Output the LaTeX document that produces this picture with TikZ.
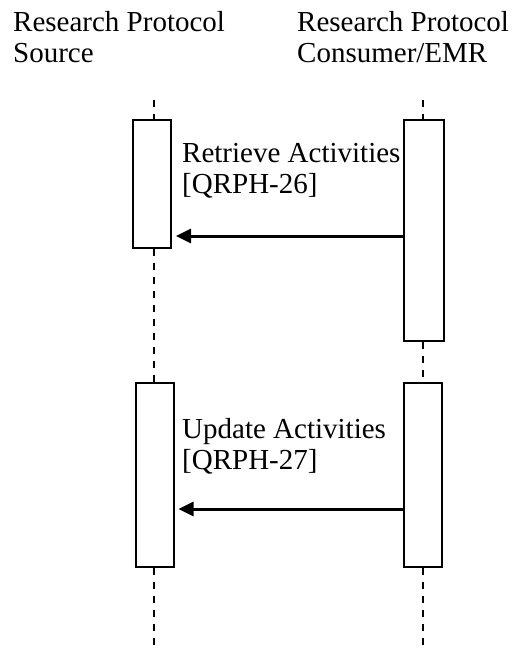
\documentclass[tikz,border=0pt]{standalone}
\usepackage{fontspec}
\setmainfont{Liberation Serif}
\usetikzlibrary{arrows.meta}
\begin{document}
\begin{tikzpicture}[x=1pt,y=-1pt,
  actbox/.style={draw=black,line width=2pt,fill=white,inner sep=0pt,rectangle},
  lifeline/.style={black,line width=1.6pt,dash pattern=on 7pt off 7pt},
  msg/.style={line width=3pt,-{Triangle[length=15pt,width=14pt]},shorten >=4pt},
  lbl/.style={inner sep=0pt,anchor=base west,align=left,font=\fontsize{29}{31}\selectfont}]
\useasboundingbox (0,0) rectangle (512,650);

% participants (anchored at the baseline of their last line)
\node[lbl] (src) at (13,63) {Research Protocol\\Source};
\node[lbl] (emr) at (297,63) {Research Protocol\\Consumer/EMR};

% activation bars
\node[actbox,minimum width=38pt,minimum height=128pt] (a1) at (152,184) {};
\node[actbox,minimum width=40pt,minimum height=221pt] (a2) at (424,230.5) {};
\node[actbox,minimum width=38pt,minimum height=184pt] (a3) at (154.5,475) {};
\node[actbox,minimum width=38pt,minimum height=184pt] (a4) at (423,475) {};

% lifeline ends
\coordinate (lt) at (154,100);
\coordinate (lb) at (154,650);
\coordinate (rt) at (423,100);
\coordinate (rb) at (423,650);

% lifelines
\draw[lifeline] (lt) -- (lt |- a1.north);
\draw[lifeline] (lt |- a1.south) -- (lt |- a3.north);
\draw[lifeline] (lt |- a3.south) -- (lb);
\draw[lifeline] (rt) -- (rt |- a2.north);
\draw[lifeline] (rt |- a2.south) -- (rt |- a4.north);
\draw[lifeline] (rt |- a4.south) -- (rb);

% messages
\coordinate (m1) at (0,236);
\coordinate (m2) at (0,509);
\draw[msg] (a2.west |- m1) -- (a1.east |- m1);
\draw[msg] (a4.west |- m2) -- (a3.east |- m2);

% message labels
\node[lbl] (t1) at (182,193) {Retrieve Activities\\{}[QRPH-26]};
\node[lbl] (t2) at (182,469) {Update Activities\\{}[QRPH-27]};
\end{tikzpicture}
\end{document}
